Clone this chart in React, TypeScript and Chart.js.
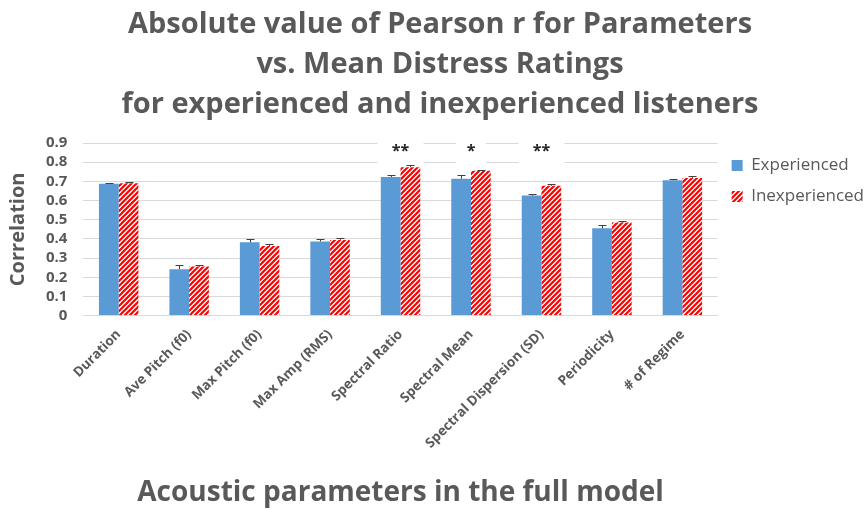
import React, { useEffect, useRef } from "react";
import { Chart, registerables } from "chart.js";

Chart.register(...registerables);

const categories = [
  "Duration",
  "Ave Pitch (f0)",
  "Max Pitch (f0)",
  "Max Amp (RMS)",
  "Spectral Ratio",
  "Spectral Mean",
  "Spectral Dispersion (SD)",
  "Periodicity",
  "# of Regime",
];
const experienced = [0.688, 0.242, 0.382, 0.387, 0.723, 0.714, 0.626, 0.455, 0.706];
const inexperienced = [0.69, 0.256, 0.363, 0.395, 0.774, 0.755, 0.677, 0.486, 0.718];
const experiencedErr = [0.006, 0.023, 0.018, 0.01, 0.012, 0.017, 0.01, 0.015, 0.008];
const inexperiencedErr = [0.005, 0.008, 0.008, 0.008, 0.01, 0.005, 0.008, 0.008, 0.01];
const significance = ["", "", "", "", "**", "*", "**", "", ""];
const significanceLevel = 0.87;
const yTicks = [0, 0.1, 0.2, 0.3, 0.4, 0.5, 0.6, 0.7, 0.8, 0.9];

const GRAY = "#595959";
const FONT = "'Open Sans', sans-serif";

function makeStripePattern(): CanvasPattern | string {
  const c = document.createElement("canvas");
  const s = 5;
  c.width = s;
  c.height = s;
  const g = c.getContext("2d");
  if (!g) return "#FF0000";
  g.fillStyle = "#ffffff";
  g.fillRect(0, 0, s, s);
  g.strokeStyle = "#FF0000";
  g.lineWidth = 2.2;
  g.beginPath();
  for (let k = -1; k <= 1; k++) {
    g.moveTo(k * s - 1, s + 1);
    g.lineTo(k * s + s + 1, -1);
  }
  g.stroke();
  const p = g.createPattern(c, "repeat");
  return p || "#FF0000";
}

export default function App() {
  const ref = useRef<HTMLCanvasElement | null>(null);

  useEffect(() => {
    document.body.style.margin = "0";
    const canvas = ref.current;
    if (!canvas) return;
    const stripe = makeStripePattern();
    const errs = [experiencedErr, inexperiencedErr];

    const errorBars = {
      id: "errorBars",
      afterDatasetsDraw(chart: any) {
        const ctx = chart.ctx;
        const yScale = chart.scales.y;
        ctx.save();
        ctx.strokeStyle = "#404040";
        ctx.lineWidth = 1;
        chart.data.datasets.forEach((ds: any, di: number) => {
          const meta = chart.getDatasetMeta(di);
          meta.data.forEach((bar: any, i: number) => {
            const v = ds.data[i];
            const top = yScale.getPixelForValue(v + errs[di][i]);
            const base = yScale.getPixelForValue(v);
            const x = Math.round(bar.x) + 0.5;
            ctx.beginPath();
            ctx.moveTo(x, base);
            ctx.lineTo(x, Math.round(top) + 0.5);
            ctx.moveTo(x - 4, Math.round(top) + 0.5);
            ctx.lineTo(x + 4, Math.round(top) + 0.5);
            ctx.stroke();
          });
        });
        ctx.restore();
      },
    };

    const stars = {
      id: "stars",
      beforeDatasetsDraw(chart: any) {
        const ctx = chart.ctx;
        const xs = chart.scales.x;
        const ys = chart.scales.y;
        ctx.save();
        significance.forEach((s, i) => {
          if (!s) return;
          const cx = xs.getPixelForValue(i);
          const cy = ys.getPixelForValue(significanceLevel);
          const w = s.length === 2 ? 46 : 30;
          ctx.fillStyle = "#ffffff";
          ctx.fillRect(cx - w / 2, cy - 18, w, 38);
          ctx.fillStyle = "#262626";
          ctx.font = `bold 16px ${FONT}`;
          ctx.textAlign = "center";
          ctx.textBaseline = "middle";
          ctx.fillText(s, cx, cy + 3);
        });
        ctx.restore();
      },
    };

    const chart = new Chart(canvas, {
      type: "bar",
      data: {
        labels: categories,
        datasets: [
          {
            label: "Experienced",
            data: experienced,
            backgroundColor: "#5B9BD5",
            borderWidth: 0,
            barPercentage: 1,
            categoryPercentage: 0.56,
          },
          {
            label: "Inexperienced",
            data: inexperienced,
            backgroundColor: stripe as any,
            borderWidth: 0,
            barPercentage: 1,
            categoryPercentage: 0.56,
          },
        ],
      },
      options: {
        animation: false,
        responsive: false,
        maintainAspectRatio: false,
        layout: { padding: { left: 6, right: -10, top: 0, bottom: 0 } },
        plugins: {
          title: {
            display: true,
            text: [
              "Absolute value of Pearson r for Parameters",
              "vs. Mean Distress Ratings",
              "for experienced and inexperienced listeners",
            ],
            color: GRAY,
            font: { family: FONT, size: 29, weight: "bold", lineHeight: 1.38 },
            padding: { top: 5, bottom: 18 },
          },
          legend: {
            position: "right",
            align: "start",
            fullSize: false,
            labels: {
              color: GRAY,
              font: { family: FONT, size: 17 },
              boxWidth: 11,
              boxHeight: 11,
              padding: 14,
            },
          },
          tooltip: { enabled: false },
        },
        scales: {
          x: {
            grid: { display: false },
            border: { display: true, color: "#d9d9d9" },
            ticks: {
              color: GRAY,
              font: { family: FONT, size: 13.5, weight: "bold" },
              minRotation: 45,
              maxRotation: 45,
              autoSkip: false,
            },
            title: {
              display: true,
              text: "Acoustic parameters in the full model",
              color: GRAY,
              font: { family: FONT, size: 28, weight: "bold" },
              padding: { top: 22, bottom: 0 },
            },
          },
          y: {
            min: 0,
            max: 0.9,
            afterBuildTicks(axis: any) {
              axis.ticks = yTicks.map((v) => ({ value: v }));
            },
            grid: { color: "#d9d9d9", drawTicks: false },
            border: { display: false },
            ticks: {
              color: GRAY,
              font: { family: FONT, size: 15, weight: "bold", lineHeight: 1 },
              padding: 16,
              autoSkip: false,
              callback: (v: any) => (Number(v) === 0 ? "0" : Number(v).toFixed(1)),
            },
            title: {
              display: true,
              text: "Correlation",
              color: GRAY,
              font: { family: FONT, size: 20, weight: "bold" },
              padding: { top: 0, bottom: 0 },
            },
          },
        },
      },
      plugins: [stars, errorBars],
    });
    return () => chart.destroy();
  }, []);

  return (
    <div style={{ width: 864, height: 510, background: "#fff" }}>
      <canvas ref={ref} width={864} height={510} style={{ display: "block" }} />
    </div>
  );
}
